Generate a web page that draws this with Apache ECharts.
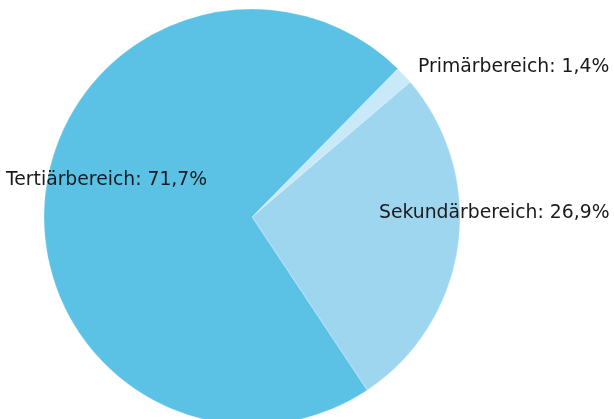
<!DOCTYPE html>
<html>
<head>
<meta charset="utf-8">
<script src="https://cdn.jsdelivr.net/npm/echarts@6/dist/echarts.min.js"></script>
<style>
  html, body { margin: 0; padding: 0; background: #fff; }
  #chart { width: 614px; height: 419px; }
</style>
</head>
<body>
<div id="chart"></div>
<script>
// Anteile der Sektoren
const categories = ['Primärbereich', 'Sekundärbereich', 'Tertiärbereich']
const values = [1.4, 26.9, 71.7]
const colors = ['#c8e9f7', '#9fd6ef', '#5bc2e6']
// label anchors (left / middle)
const labelPos = [[418, 67], [379, 213], [6, 180]]

const chart = echarts.init(document.getElementById('chart'))

const option = {
  animation: false,
  series: [
    {
      type: 'pie',
      center: [252, 217],
      radius: 208,
      startAngle: 45.5,
      clockwise: true,
      avoidLabelOverlap: false,
      data: categories.map((name, i) => ({
        name: name,
        value: values[i],
        itemStyle: { color: colors[i] }
      })),
      itemStyle: {
        borderColor: 'rgba(255,255,255,0.5)',
        borderWidth: 0.5
      },
      label: {
        show: true,
        position: 'outside',
        fontFamily: 'DejaVu Sans',
        fontSize: 18.8,
        color: '#1a1a1a',
        overflow: 'none',
        formatter: p => p.name + ': ' + String(p.value).replace('.', ',') + '%'
      },
      labelLine: { show: false },
      labelLayout: params => {
        const pos = labelPos[params.dataIndex]
        return { x: pos[0], y: pos[1], align: 'left', verticalAlign: 'middle', hideOverlap: false, moveOverlap: null }
      }
    }
  ]
}

chart.setOption(option)
window.addEventListener('resize', () => chart.resize(), false)
</script>
</body>
</html>
